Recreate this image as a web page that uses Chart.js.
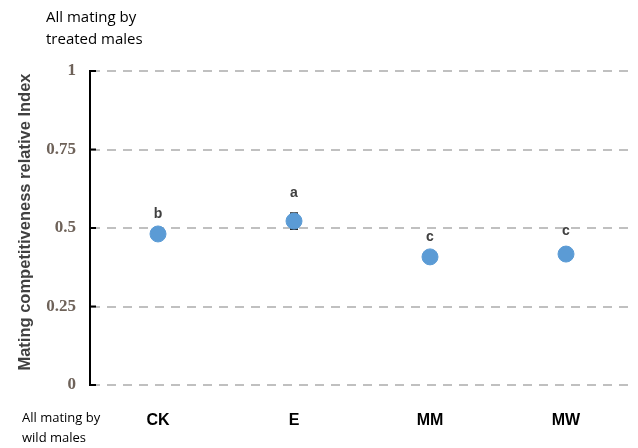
<!DOCTYPE html>
<html>
<head>
<meta charset="utf-8">
<script src="https://cdn.jsdelivr.net/npm/chart.js@4"></script>
<style>
  html, body { margin: 0; padding: 0; background: #fff; }
  #wrap { width: 638px; height: 448px; }
</style>
</head>
<body>
<div id="wrap"><canvas id="chart"></canvas></div>
<script>
const categories = ["CK", "E", "MM", "MW"];
const index = [0.481, 0.522, 0.408, 0.417];
const errors = [0, 0.025, 0, 0.01];
const letters = ["b", "a", "c", "c"];
const yTicks = [0, 0.25, 0.5, 0.75, 1];

// letters, error bars, inner ticks and corner notes
const extras = {
    id: "extras",
    beforeDatasetsDraw(chart) {
        const ctx = chart.ctx;
        const x = chart.scales.x, y = chart.scales.y;
        ctx.save();
        errors.forEach((e, i) => {
            if (!e) return;
            const px = x.getPixelForValue(i);
            const top = y.getPixelForValue(index[i] + e);
            const bot = y.getPixelForValue(index[i] - e);
            ctx.strokeStyle = i === 1 ? "#262626" : "#bfbfbf";
            ctx.lineWidth = 2;
            ctx.beginPath();
            ctx.moveTo(px, top); ctx.lineTo(px, bot);
            ctx.moveTo(px - 4, top); ctx.lineTo(px + 4, top);
            ctx.moveTo(px - 4, bot); ctx.lineTo(px + 4, bot);
            ctx.stroke();
        });
        ctx.restore();
    },
    afterDraw(chart) {
        const ctx = chart.ctx;
        const x = chart.scales.x, y = chart.scales.y;
        ctx.save();
        // inward ticks on the y axis
        ctx.strokeStyle = "#000";
        ctx.lineWidth = 2;
        yTicks.forEach(t => {
            const py = y.getPixelForValue(t);
            ctx.beginPath();
            ctx.moveTo(chart.chartArea.left, py);
            ctx.lineTo(chart.chartArea.left + 6, py);
            ctx.stroke();
        });
        // significance letters
        ctx.fillStyle = "#404040";
        ctx.font = "bold 14px 'Liberation Sans', sans-serif";
        ctx.textAlign = "center";
        ctx.textBaseline = "middle";
        letters.forEach((l, i) => {
            const px = x.getPixelForValue(i);
            const py = y.getPixelForValue(index[i] + errors[i]);
            ctx.fillText(l, px, py - 20);
        });
        // y title
        ctx.save();
        ctx.translate(25, 222);
        ctx.rotate(-Math.PI / 2);
        ctx.fillStyle = "#404040";
        ctx.font = "bold 16.5px 'Liberation Sans', sans-serif";
        ctx.fillText("Mating competitiveness relative Index", 0, 0);
        ctx.restore();
        // corner notes
        ctx.fillStyle = "#000";
        ctx.textAlign = "left";
        ctx.font = "15px 'Open Sans', sans-serif";
        ctx.fillText("All mating by", 46, 18);
        ctx.fillText("treated males", 46, 40);
        ctx.font = "13px 'Open Sans', sans-serif";
        ctx.fillText("All mating by", 22, 418);
        ctx.fillText("wild males", 22, 438);
        ctx.restore();
    }
};

new Chart(document.getElementById("chart"), {
    type: "line",
    data: {
        labels: categories,
        datasets: [{
            data: index,
            showLine: false,
            pointRadius: 8,
            pointHoverRadius: 8,
            pointBackgroundColor: "#5b9bd5",
            pointBorderColor: "#5b9bd5"
        }]
    },
    options: {
        responsive: true,
        maintainAspectRatio: false,
        animation: false,
        layout: { autoPadding: false, padding: { top: 71, right: 4, left: 0, bottom: 0 } },
        plugins: { legend: { display: false }, tooltip: { enabled: false } },
        scales: {
            x: {
                offset: true,
                grid: { display: false },
                border: { display: false },
                ticks: {
                    padding: 18,
                    color: "#000",
                    font: { family: "'Liberation Sans', sans-serif", size: 16, weight: "bold" }
                },
                afterFit(s) { s.height = 63; }
            },
            y: {
                min: 0,
                max: 1,
                afterBuildTicks(s) { s.ticks = yTicks.map(v => ({ value: v })); },
                grid: { color: "#c0c0c0", lineWidth: 2, drawTicks: false },
                border: { display: true, color: "#000", width: 2, dash: [9, 7] },
                ticks: {
                    padding: 14,
                    color: "#6e6259",
                    font: { family: "'Liberation Serif', serif", size: 17, weight: "bold" },
                    callback: v => String(v)
                },
                afterFit(s) { s.width = 90; }
            }
        }
    },
    plugins: [extras]
});
</script>
</body>
</html>
